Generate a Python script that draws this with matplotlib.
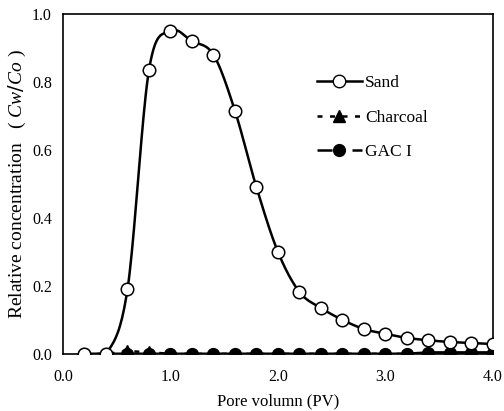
import numpy as np
import matplotlib
matplotlib.use("Agg")
import matplotlib.pyplot as plt

pv = [0.2, 0.4, 0.6, 0.8, 1.0, 1.2, 1.4, 1.6, 1.8, 2.0,
      2.2, 2.4, 2.6, 2.8, 3.0, 3.2, 3.4, 3.6, 3.8, 4.0]
sand = [0.0, 0.0, 0.19, 0.835, 0.95, 0.92, 0.88, 0.715, 0.49, 0.30,
        0.182, 0.135, 0.10, 0.073, 0.059, 0.047, 0.04, 0.035, 0.032, 0.029]
charcoal = [0.0, 0.0, 0.008, 0.005, 0.0, 0.0, 0.0, 0.0, 0.0, 0.0,
            0.0, 0.0, 0.0, 0.0, 0.0, 0.0, 0.0, 0.0, 0.0, 0.0]
gac = [0.0, 0.0, 0.0, 0.0, 0.0, 0.0, 0.0, 0.0, 0.0, 0.0,
       0.0, 0.0, 0.0, 0.0, 0.0, 0.0, 0.004, 0.004, 0.004, 0.004]


def smooth(x, y, n=20):
    # Catmull-Rom style smoothing like a spreadsheet "smoothed line"
    x = np.asarray(x, float)
    y = np.asarray(y, float)
    px = np.concatenate([[2 * x[0] - x[1]], x, [2 * x[-1] - x[-2]]])
    py = np.concatenate([[2 * y[0] - y[1]], y, [2 * y[-1] - y[-2]]])
    xs, ys = [], []
    t = np.linspace(0, 1, n, endpoint=False)
    for i in range(1, len(px) - 2):
        for p, out in ((px, xs), (py, ys)):
            p0, p1, p2, p3 = p[i - 1], p[i], p[i + 1], p[i + 2]
            out.extend(0.5 * ((2 * p1) + (-p0 + p2) * t
                              + (2 * p0 - 5 * p1 + 4 * p2 - p3) * t ** 2
                              + (-p0 + 3 * p1 - 3 * p2 + p3) * t ** 3))
    xs.append(x[-1])
    ys.append(y[-1])
    return np.array(xs), np.array(ys)


plt.rcParams['font.family'] = ['Liberation Serif', 'DejaVu Serif']
plt.rcParams['mathtext.fontset'] = 'custom'
plt.rcParams['mathtext.it'] = 'Liberation Serif:italic'

fig = plt.figure(figsize=(5.04, 4.11), dpi=100)
ax = fig.add_axes([0.125, 0.139, 0.853, 0.827])

sx, sy = smooth(pv, sand)
ax.plot(sx, sy, color='black', lw=1.8, zorder=2)
ax.plot(pv, sand, 'o', color='black', mfc='white', ms=9, mew=1.1, zorder=4)
ax.plot(pv, charcoal, color='black', lw=1.8, ls=(0, (2, 3)),
        marker='^', ms=8, zorder=3)
ax.plot(pv, gac, color='black', lw=2, ls='-',
        marker='o', ms=8.5, zorder=3)

# legend drawn as proxy artists
ax.plot([], [], color='black', lw=1.8, marker='o', mfc='white', ms=9,
        label='Sand')
ax.plot([], [], color='black', lw=1.8, ls=(0, (2, 3)), marker='^', ms=8,
        label='Charcoal')
ax.plot([], [], color='black', lw=1.8, ls=(0, (6, 3, 2, 3)), marker='o',
        ms=8.5, label='GAC I')
ax.legend(loc='upper left', bbox_to_anchor=(0.57, 0.845), frameon=False,
          fontsize=12.5, handlelength=2.6, handletextpad=0.2,
          labelspacing=1.05, borderpad=0)

ax.set_xlim(0, 4.0)
ax.set_ylim(0, 1.0)
ax.set_xticks([0, 1, 2, 3, 4])
ax.set_xticklabels(['0.0', '1.0', '2.0', '3.0', '4.0'])
ax.set_yticks([0, 0.2, 0.4, 0.6, 0.8, 1.0])
ax.set_yticklabels(['0.0', '0.2', '0.4', '0.6', '0.8', '1.0'])
ax.tick_params(axis='x', length=0, labelsize=11.5, pad=11)
ax.tick_params(axis='y', length=0, labelsize=11.5, pad=8)
for s in ax.spines.values():
    s.set_linewidth(1.2)
ax.set_xlabel('Pore volumn (PV)', fontsize=12, labelpad=6)
ax.set_ylabel('Relative concentration   ( $Cw/Co$ )', fontsize=14,
              labelpad=3)

fig.savefig('out.png', dpi=100)
